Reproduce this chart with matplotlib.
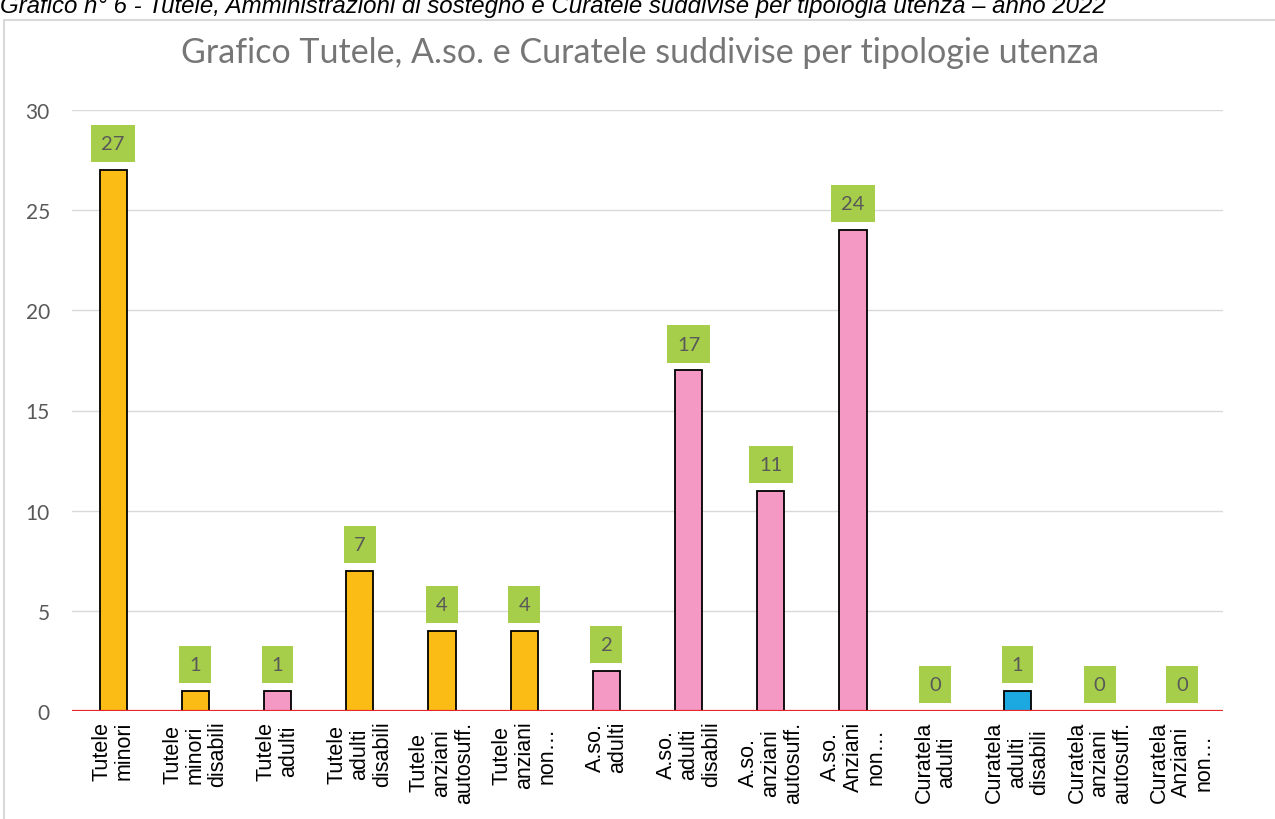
import matplotlib
matplotlib.use("Agg")
import matplotlib.pyplot as plt
from matplotlib.patches import Rectangle

categories = [
    "Tutele\nminori", "Tutele\nminori\ndisabili", "Tutele\nadulti", "Tutele\nadulti\ndisabili",
    "Tutele\nanziani\nautosuff.", "Tutele\nanziani\nnon…", "A.so.\nadulti", "A.so.\nadulti\ndisabili",
    "A.so.\nanziani\nautosuff.", "A.so.\nAnziani\nnon…", "Curatela\nadulti", "Curatela\nadulti\ndisabili",
    "Curatela\nanziani\nautosuff.", "Curatela\nAnziani\nnon…",
]
values = [27, 1, 1, 7, 4, 4, 2, 17, 11, 24, 0, 1, 0, 0]
GOLD, PINK, BLUE = "#FBBD15", "#F499C4", "#1CA8E0"
bar_colors = [GOLD, GOLD, PINK, GOLD, GOLD, GOLD, PINK, PINK, PINK, PINK, PINK, BLUE, PINK, PINK]
yticks = [0, 5, 10, 15, 20, 25, 30]

title = "Grafico Tutele, A.so. e Curatele suddivise per tipologie utenza"
caption = "Grafico n° 6 - Tutele, Amministrazioni di sostegno e Curatele suddivise per tipologia utenza – anno 2022"

W, H = 1275, 820
fig = plt.figure(figsize=(W / 100, H / 100), dpi=100)
ax = fig.add_axes([72 / W, 1 - 712 / H, (1223 - 72) / W, (712 - 111) / H])

x = list(range(len(categories)))
ax.bar(x, values, width=0.33, color=bar_colors, edgecolor="black", linewidth=1.3, zorder=3)
ax.set_xlim(-0.5, len(categories) - 0.5)
ax.set_ylim(0, 30)
ax.set_yticks(yticks)
ax.yaxis.grid(True, color="#D9D9D9", linewidth=1, zorder=0)
ax.set_axisbelow(True)
for s in ax.spines.values():
    s.set_visible(False)
ax.axhline(0, color="#E8262D", linewidth=1.6, zorder=4)
ax.tick_params(axis="both", length=0)
ax.tick_params(axis="y", labelsize=15, labelcolor="#595959", pad=16)
for lab in ax.get_yticklabels():
    lab.set_fontfamily("Lato")

ax.set_xticks(x)
ax.set_xticklabels(categories, rotation=90, ha="center", va="top", multialignment="center",
                   fontsize=15.5, family="Liberation Sans", linespacing=1.1)
ax.tick_params(axis="x", pad=7)

for xi, v in zip(x, values):
    ax.annotate(str(v), (xi, v), xytext=(0, 19), textcoords="offset points",
                ha="center", va="center", fontsize=14.5, family="Lato", color="#595959",
                bbox=dict(boxstyle="square,pad=0.5", facecolor="#A6CE4B", edgecolor="none"),
                zorder=5)

fig.text(640 / W, 1 - 53 / H, title, ha="center", va="center", fontsize=24.5,
         family="Lato", color="#767676")
fig.text(0.0, 1 - 13 / H, caption, ha="left", va="baseline", fontsize=17.3,
         family="Liberation Sans", style="italic", color="#000000")

fig.add_artist(Rectangle((4 / W, -0.01), 1.0, 1 - 21 / H + 0.01, transform=fig.transFigure,
                         fill=False, edgecolor="#D9D9D9", linewidth=1.5))

fig.savefig("out.png", dpi=100)
